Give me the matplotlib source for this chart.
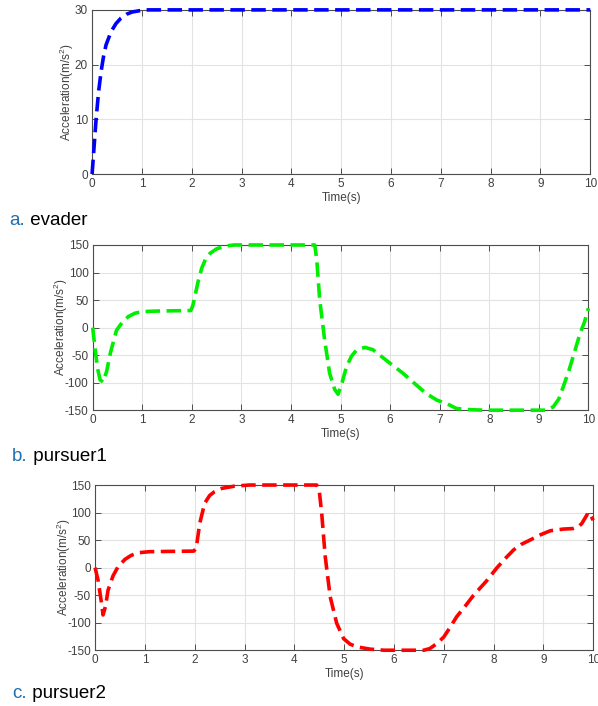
import matplotlib
matplotlib.use('Agg')
import matplotlib.pyplot as plt

plt.rcParams['font.family'] = ['Liberation Sans', 'DejaVu Sans']
plt.rcParams['mathtext.fontset'] = 'custom'
plt.rcParams['mathtext.rm'] = 'Liberation Sans'
plt.rcParams['mathtext.it'] = 'Liberation Sans'
plt.rcParams['axes.unicode_minus'] = False

# evader
evader_t = [0, 0.04, 0.08, 0.13, 0.18, 0.23, 0.28, 0.38, 0.48, 0.58, 0.69, 0.8, 0.92, 1.05, 1.3, 10]
evader_a = [0, 5, 10, 15, 18.7, 21.5, 23.6, 26, 27.5, 28.5, 29.2, 29.6, 29.8, 30, 30, 30]

# pursuer1
p1_t = [0, 0.05, 0.1, 0.15, 0.21, 0.28, 0.36, 0.48, 0.6, 0.72, 0.85, 0.99, 1.3, 1.98, 2.02, 2.06,
        2.13, 2.2, 2.28, 2.37, 2.5, 2.67, 2.85, 3.1, 4.48, 4.52, 4.58, 4.68, 4.78, 4.88, 4.95, 5.03,
        5.12, 5.22, 5.32, 5.49, 5.65, 5.79, 6.0, 6.26, 6.5, 6.73, 6.95, 7.14, 7.34, 7.6, 7.9, 9.15,
        9.29, 9.4, 9.49, 9.6, 9.69, 9.83, 9.92, 10]
p1_a = [0, -40, -75, -95, -99, -80, -45, -5, 10, 20, 26, 29, 30, 31, 40, 56,
        85, 108, 125, 135, 143, 148, 150, 150, 150, 123, 50, -23, -83, -112, -121, -100,
        -71, -52, -41, -36, -40, -50, -65, -83, -102, -120, -132, -138, -147, -149, -150, -150,
        -144, -130, -108, -80, -53, -11, 10, 35]

# pursuer2
p2_t = [0, 0.06, 0.13, 0.16, 0.21, 0.26, 0.36, 0.46, 0.6, 0.72, 0.86, 1.1, 1.98, 2.03, 2.1, 2.2,
        2.3, 2.4, 2.55, 2.8, 3.1, 4.45, 4.5, 4.55, 4.62, 4.72, 4.85, 4.99, 5.12, 5.26, 5.52, 5.8,
        6.6, 6.72, 6.86, 7.0, 7.13, 7.26, 7.43, 7.6, 7.85, 8.07, 8.25, 8.4, 8.55, 8.73, 8.95, 9.14,
        9.4, 9.6, 9.7, 9.77, 9.85, 9.9, 9.95, 10]
p2_a = [0, -23, -65, -86, -70, -41, -15, 1.5, 15, 22, 27, 29, 30, 35, 80, 117,
        131, 138, 144, 148, 150, 150, 140, 98, 20, -53, -101, -129, -139, -144, -148, -150,
        -150, -147, -138, -126, -108, -89, -70, -50, -25, 0, 18, 32, 42, 50, 60, 67,
        70, 71, 74, 80, 92, 100, 95, 86]

panels = [
    (evader_t, evader_a, '#0000ff', [0, 30], [0, 10, 20, 30], 'a.', ' evader'),
    (p1_t, p1_a, '#00ee00', [-150, 150], [-150, -100, -50, 0, 50, 100, 150], 'b.', ' pursuer1'),
    (p2_t, p2_a, '#ff0000', [-150, 150], [-150, -100, -50, 0, 50, 100, 150], 'c.', ' pursuer2'),
]
# axes rectangles [left, bottom, width, height] in figure fractions
rects = [
    [0.154, 0.7535, 0.833, 0.2325],
    [0.155, 0.419, 0.829, 0.234],
    [0.159, 0.079, 0.833, 0.234],
]
ylab_pad = [-1, -4, -4]
caption_y = [1 - 225 / 706, 1 - 461 / 706, 1 - 698 / 706]
caption_x = [9 / 598, 12 / 598, 12 / 598]

fig = plt.figure(figsize=(5.98, 7.06), dpi=100)
gray = '#4d4d4d'

for i, (t, a, c, ylim, yt, tag, name) in enumerate(panels):
    ax = fig.add_axes(rects[i])
    ax.plot(t, a, color=c, linewidth=2.6, linestyle=(0, (4.0, 1.8)), clip_on=False, zorder=5)
    ax.set_xlim(0, 10)
    ax.set_ylim(*ylim)
    ax.set_xticks(range(0, 11))
    ax.set_yticks(yt)
    ax.grid(True, color='#e3e3e3', linewidth=0.8)
    ax.set_axisbelow(True)
    for s in ax.spines.values():
        s.set_color(gray)
        s.set_linewidth(0.8)
    ax.tick_params(direction='in', length=4, width=0.7, color=gray, labelcolor='#404040',
                   labelsize=8.5, top=True, right=True, pad=3)
    ax.set_xlabel('Time(s)', fontsize=8.5, color='#404040', labelpad=1)
    ax.set_ylabel('Acceleration(m/s$^2$)', fontsize=8.5, color='#404040', labelpad=ylab_pad[i])
    t1 = fig.text(caption_x[i], caption_y[i], tag, color='#1f70b0', fontsize=13.5, va='baseline')
    fig.add_artist(plt.Annotation(name, xy=(1, 0), xycoords=t1, va='bottom', ha='left',
                                  color='black', fontsize=13.5))

fig.savefig('out.png', dpi=100)
